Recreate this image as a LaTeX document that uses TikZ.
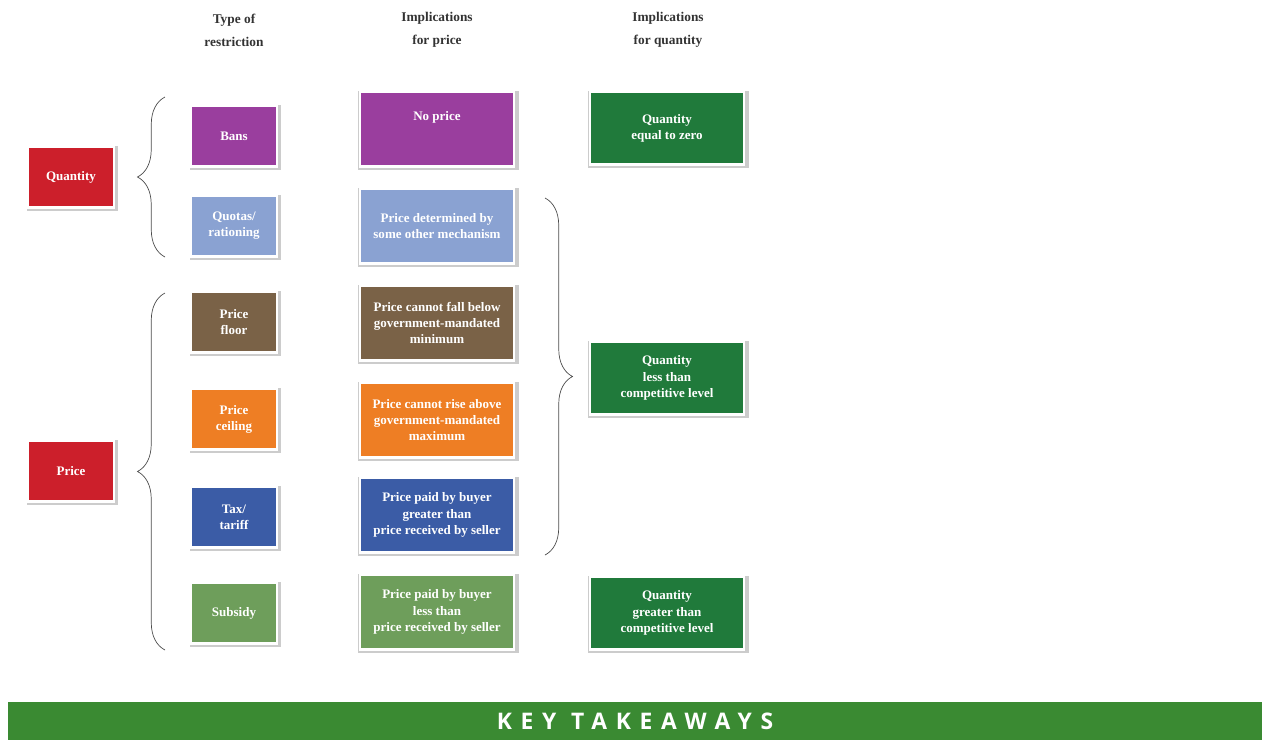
\documentclass[tikz,border=0pt]{standalone}
\usepackage{fontspec}
\setmainfont{Liberation Serif}
\newfontfamily\keyfont[LetterSpace=38]{Open Sans}
\usetikzlibrary{shadows,decorations.pathreplacing,positioning}

\definecolor{qred}{HTML}{CC1F2B}
\definecolor{banpurple}{HTML}{9A3E9E}
\definecolor{quotablue}{HTML}{8AA2D2}
\definecolor{floorbrown}{HTML}{7A6247}
\definecolor{ceilorange}{HTML}{EE7E24}
\definecolor{taxblue}{HTML}{3B5CA6}
\definecolor{subgreen}{HTML}{6E9E5B}
\definecolor{qgreen}{HTML}{207A3B}
\definecolor{bargreen}{HTML}{3A8A32}

\begin{document}
\begin{tikzpicture}[
  box/.style={rectangle, draw=white, line width=1.3pt, align=center, text=white,
    font=\bfseries\fontsize{7.4}{9.2}\selectfont, inner sep=2pt,
    general shadow={fill=gray!40, shadow scale=1.05, shadow xshift=0.8pt, shadow yshift=-0.8pt}},
  small/.style={box, minimum width=1.72cm, minimum height=1.22cm},
  wide/.style={box, minimum width=3.08cm, minimum height=1.5cm},
  head/.style={align=center, font=\bfseries\fontsize{7.6}{13}\selectfont, text=black!80},
  curly/.style={decorate, decoration={brace, amplitude=0.55cm}, gray!60!black, thin},
]
\useasboundingbox (0,0) rectangle (25.28,-14.8);

% --- column headings ---
\node[head] (htype) at (4.68,-0.6) {Type of\\restriction};
\node[head] (hprice) at (8.74,-0.6) {Implications\\for price};
\node[head] (hqty) at (13.36,-0.6) {Implications\\for quantity};

% --- restriction groups ---
\node[small, fill=qred] (quantity) at (1.42,-3.54) {Quantity};
\node[small, fill=qred] (price) at (1.42,-9.42) {Price};

% --- type of restriction ---
\node[small, fill=banpurple] (bans) at (4.68,-2.72) {Bans};
\node[small, fill=quotablue] (quotas) at (4.68,-4.52) {Quotas/\\rationing};
\node[small, fill=floorbrown] (floor) at (4.68,-6.44) {Price\\floor};
\node[small, fill=ceilorange] (ceiling) at (4.68,-8.38) {Price\\ceiling};
\node[small, fill=taxblue] (tax) at (4.68,-10.34) {Tax/\\tariff};
\node[small, fill=subgreen] (subsidy) at (4.68,-12.26) {Subsidy};

% --- implications for price ---
\node[wide, fill=banpurple] (noprice) at (8.74,-2.58) {No price\\[2mm]};
\node[wide, fill=quotablue] (pother) at (8.74,-4.52) {Price determined by\\some other mechanism};
\node[wide, fill=floorbrown] (pfloor) at (8.74,-6.46) {Price cannot fall below\\government-mandated\\minimum};
\node[wide, fill=ceilorange] (pceil) at (8.74,-8.40) {Price cannot rise above\\government-mandated\\maximum};
\node[wide, fill=taxblue] (ptax) at (8.74,-10.30) {Price paid by buyer\\greater than\\price received by seller};
\node[wide, fill=subgreen] (psub) at (8.74,-12.24) {Price paid by buyer\\less than\\price received by seller};

% --- implications for quantity ---
\node[wide, fill=qgreen, minimum height=1.46cm] (qzero) at (13.34,-2.56) {Quantity\\equal to zero};
\node[wide, fill=qgreen, minimum height=1.46cm] (qless) at (13.34,-7.56) {Quantity\\less than\\competitive level};
\node[wide, fill=qgreen, minimum height=1.46cm] (qmore) at (13.34,-12.26) {Quantity\\greater than\\competitive level};

% braces
\coordinate (qb top) at (3.3,-1.94);
\coordinate (qb bot) at (3.3,-5.14);
\coordinate (pb top) at (3.3,-5.86);
\coordinate (pb bot) at (3.3,-13.0);
\coordinate (rb top) at (10.9,-3.96);
\coordinate (rb bot) at (10.9,-11.10);
\draw[curly] (qb bot) -- (qb top);
\draw[curly] (pb bot) -- (pb top);
\draw[curly] (rb top) -- (rb bot);

% --- key takeaways bar ---
\node[fill=bargreen, minimum width=25.08cm, minimum height=0.76cm, inner sep=0pt,
  text=white, font=\keyfont\bfseries\fontsize{13}{15}\selectfont] (keybar) at (12.7,-14.42) {KEY TAKEAWAYS};
\end{tikzpicture}
\end{document}
